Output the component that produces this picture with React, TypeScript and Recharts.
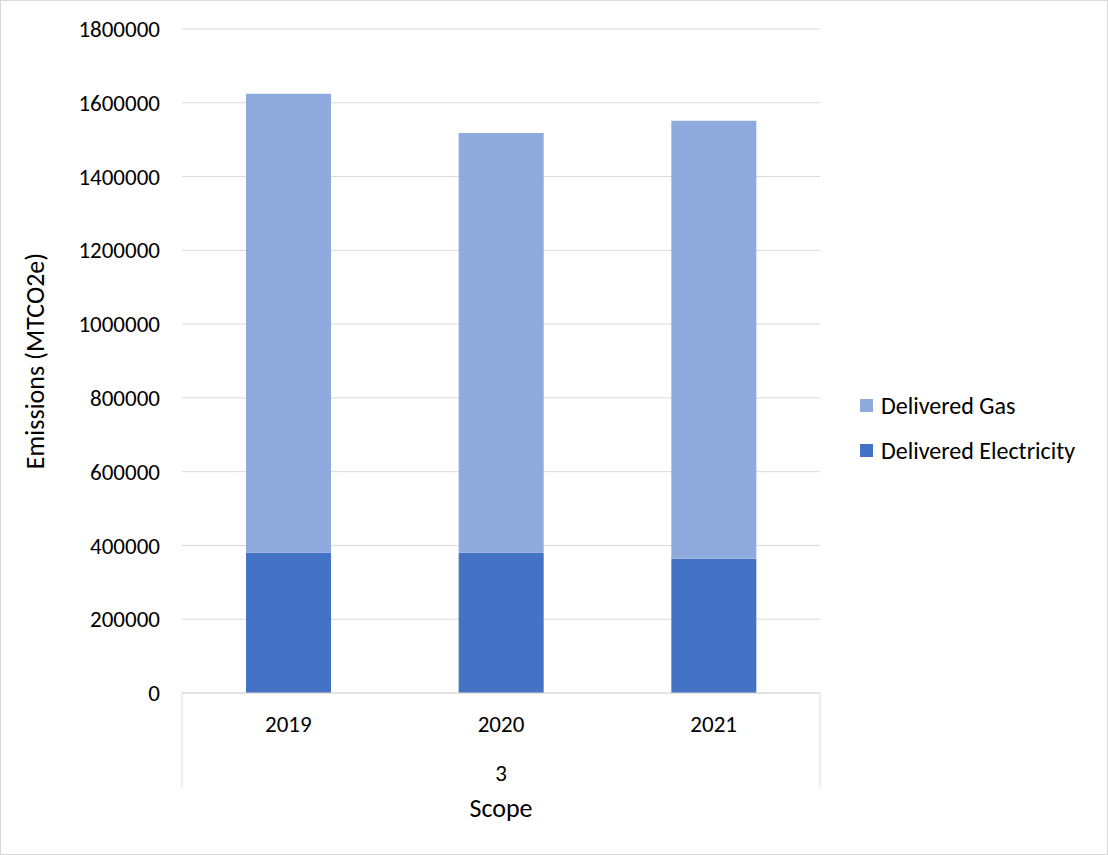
import * as Recharts from 'recharts'
import { BarChart, Bar, XAxis, YAxis, CartesianGrid, Label } from 'recharts'

const years = ['2019', '2020', '2021']
const scope = '3'
const electricity = [380500, 380500, 364000]
const gas = [1244000, 1137500, 1187000]
const yTicks = [0, 200000, 400000, 600000, 800000, 1000000, 1200000, 1400000, 1600000, 1800000]
const seriesNames = ['Delivered Gas', 'Delivered Electricity']

const data = years.map((y, i) => ({
  year: y,
  scope,
  electricity: electricity[i],
  gas: gas[i],
}))

const FONT = "Carlito, Calibri, 'Liberation Sans', Arial, sans-serif"
const W = 1106
const H = 853
const MARGIN = { top: 28, right: 287, bottom: 51, left: 0 }
const GAS = '#8faadc'
const ELEC = '#4472c4'
const GRID = '#d9d9d9'
const seriesColors = [GAS, ELEC]

// outer category boundary lines of the multi-level axis
function GroupLines() {
  const usePA = (Recharts as any).usePlotArea
  const pa = usePA ? usePA() : null
  const x = pa ? pa.x : 181
  const w = pa ? pa.width : W - MARGIN.right - 181
  const y = pa ? pa.y + pa.height : 692
  return (
    <g>
      <line x1={x} x2={x} y1={y} y2={y + 94} stroke={GRID} strokeWidth={1} />
      <line x1={x + w} x2={x + w} y1={y} y2={y + 94} stroke={GRID} strokeWidth={1} />
    </g>
  )
}

function LegendBox() {
  return (
    <div style={{ position: 'absolute', left: 859, top: 382, fontFamily: FONT, fontSize: 24, color: '#000' }}>
      {seriesNames.map((n, i) => (
        <div key={n} style={{ display: 'flex', alignItems: 'center', height: 45 }}>
          <span style={{ width: 13, height: 13, background: seriesColors[i], display: 'inline-block', marginRight: 8 }} />
          <span>{n}</span>
        </div>
      ))}
    </div>
  )
}

export default function App() {
  return (
    <div
      style={{
        position: 'absolute',
        left: 0,
        top: 0,
        width: 1108,
        height: 855,
        boxSizing: 'border-box',
        border: '1px solid #d9d9d9',
        background: '#fff',
      }}
    >
      <BarChart width={W} height={H} data={data} margin={MARGIN}>
        <CartesianGrid vertical={false} stroke={GRID} strokeWidth={1} xAxisId="lvl1" />
        <XAxis
          xAxisId="lvl1"
          dataKey="year"
          height={55}
          stroke={GRID}
          tickLine={false}
          tickSize={0}
          tickMargin={0}
          tick={(p: any) => (
            <text x={p.x} y={p.y + 31} textAnchor="middle" dominantBaseline="central" fontFamily={FONT} fontSize={23} fill="#000">
              {p.payload.value}
            </text>
          )}
        />
        <XAxis
          xAxisId="lvl2"
          dataKey="scope"
          allowDuplicatedCategory={false}
          height={55}
          axisLine={false}
          tickLine={false}
          tickSize={0}
          tickMargin={0}
          tick={(p: any) => (
            <text x={p.x} y={p.y + 25} textAnchor="middle" dominantBaseline="central" fontFamily={FONT} fontSize={23} fill="#000">
              {p.payload.value}
            </text>
          )}
        >
          <Label
            content={(p: any) => {
              const vb = p.viewBox
              return (
                <text x={vb.x + vb.width / 2} y={vb.y + 60} textAnchor="middle" dominantBaseline="central" fontFamily={FONT} fontSize={26} fill="#000">
                  Scope
                </text>
              )
            }}
          />
        </XAxis>
        <YAxis
          width={181}
          domain={[0, 1800000]}
          ticks={yTicks}
          axisLine={false}
          tickLine={false}
          tickSize={0}
          tickMargin={22}
          tick={{ fontFamily: FONT, fontSize: 23, fill: '#000' }}
        >
          <Label
            content={(p: any) => {
              const vb = p.viewBox
              const cx = vb.x + 34
              const cy = vb.y + vb.height / 2
              return (
                <text x={cx} y={cy} transform={`rotate(-90 ${cx} ${cy})`} textAnchor="middle" dominantBaseline="central" fontFamily={FONT} fontSize={26} fill="#000">
                  Emissions (MTCO2e)
                </text>
              )
            }}
          />
        </YAxis>
        <Bar xAxisId="lvl1" dataKey="electricity" name="Delivered Electricity" stackId="s" fill={ELEC} barSize={85} isAnimationActive={false} />
        <Bar xAxisId="lvl1" dataKey="gas" name="Delivered Gas" stackId="s" fill={GAS} barSize={85} isAnimationActive={false} />
        <GroupLines />
      </BarChart>
      <LegendBox />
    </div>
  )
}
